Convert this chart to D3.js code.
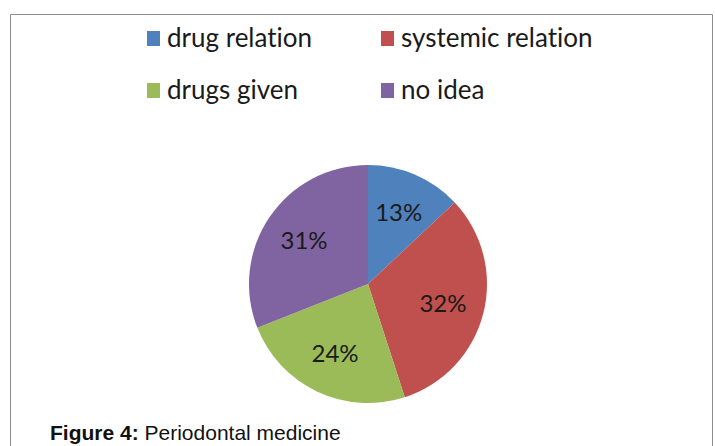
<!DOCTYPE html>
<html>
<head>
<meta charset="utf-8">
<script src="https://cdn.jsdelivr.net/npm/d3@7"></script>
<style>
  body { margin: 0; background: #fff; }
  text { font-variant-ligatures: none; font-feature-settings: "liga" 0, "clig" 0; }
</style>
</head>
<body>
<div id="chart"></div>
<script>
// data
var categories = ['drug relation', 'systemic relation', 'drugs given', 'no idea'];
var values = [13, 32, 24, 31];
var colors = ['#4F81BD', '#C0504D', '#9BBB59', '#8064A2'];

var W = 715, H = 446,
    cx = 368, cy = 284,
    R = 119;

var svg = d3.select('#chart').append('svg')
    .attr('width', W)
    .attr('height', H);

// frame
svg.append('path')
    .attr('d', 'M10.5,' + H + 'V14.5H712.5V' + H)
    .attr('fill', 'none')
    .attr('stroke', '#8c8c8c')
    .attr('stroke-width', 1);

var pie = d3.pie().sort(null).value(function (d) { return d; });
var arc = d3.arc().innerRadius(0).outerRadius(R);
var labelArc = d3.arc().innerRadius(R * 0.65).outerRadius(R * 0.65);

var g = svg.append('g').attr('transform', 'translate(' + cx + ',' + cy + ')');

var arcs = pie(values);

g.selectAll('path.slice').data(arcs).enter().append('path')
    .attr('class', 'slice')
    .attr('d', arc)
    .attr('fill', function (d, i) { return colors[i]; });

g.selectAll('text.lbl').data(arcs).enter().append('text')
    .attr('class', 'lbl')
    .attr('transform', function (d) { return 'translate(' + labelArc.centroid(d) + ')'; })
    .attr('text-anchor', 'middle')
    .attr('dy', '0.35em')
    .style('font-family', 'Lato, "Open Sans", sans-serif')
    .style('font-size', '24px')
    .style('fill', '#1a1a1a')
    .text(function (d) { return d.data + '%'; });

// legend, 2 columns
var legX = [147, 381], legY = [38, 90];
var leg = svg.selectAll('g.leg').data(categories).enter().append('g')
    .attr('class', 'leg')
    .attr('transform', function (d, i) {
        return 'translate(' + legX[i % 2] + ',' + legY[Math.floor(i / 2)] + ')';
    });

leg.append('rect')
    .attr('x', 0).attr('y', -7)
    .attr('width', 13).attr('height', 15)
    .attr('fill', function (d, i) { return colors[i]; });

leg.append('text')
    .attr('x', 20)
    .attr('dy', '0.35em')
    .style('font-family', 'Lato, "Open Sans", sans-serif')
    .style('font-size', '26px')
    .style('fill', '#1a1a1a')
    .text(function (d) { return d; });

// caption
var cap = svg.append('text')
    .attr('x', 50).attr('y', 440)
    .style('font-family', '"Liberation Sans Narrow", "Arial Narrow", "Liberation Sans", sans-serif')
    .style('font-size', '21px')
    .style('fill', '#111');
cap.append('tspan').style('font-weight', 'bold').text('Figure 4:');
cap.append('tspan').text(' Periodontal medicine');
</script>
</body>
</html>
